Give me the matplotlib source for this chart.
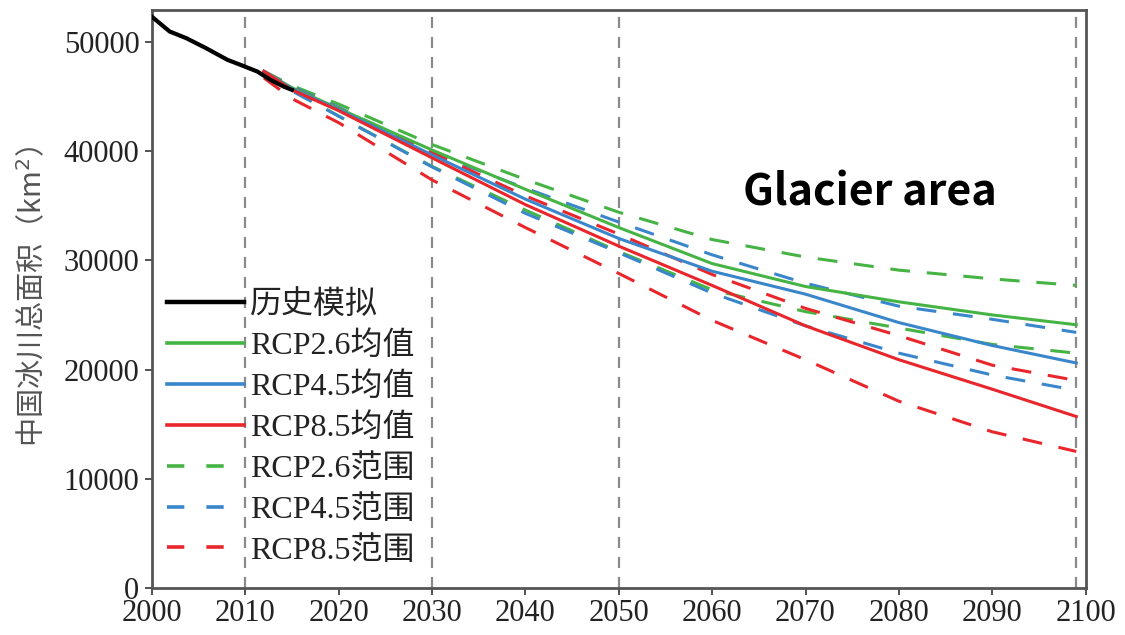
import matplotlib
matplotlib.use("Agg")
import matplotlib.pyplot as plt

# historical simulation
hist_years = [2000, 2001.9, 2003.7, 2005.8, 2008.1, 2009.5, 2011.3, 2012.7, 2014.1, 2015]
hist_area = [52300, 50950, 50330, 49420, 48350, 47890, 47280, 46520, 45910, 45600]

# projections
years = [2012, 2015, 2020, 2030, 2040, 2050, 2060, 2070, 2080, 2090, 2099]
rcp26_mean = [47300, 45800, 43900, 40100, 36500, 33000, 29700, 27600, 26200, 25000, 24100]
rcp45_mean = [47300, 45700, 43800, 39650, 35600, 32000, 29000, 26900, 24300, 22200, 20600]
rcp85_mean = [47300, 45600, 43700, 39380, 35100, 31300, 27700, 24000, 20900, 18200, 15700]
rcp26_hi = [47300, 46000, 44300, 40600, 37400, 34400, 31900, 30300, 29100, 28300, 27700]
rcp26_lo = [47300, 45600, 43200, 38600, 34600, 30800, 27300, 25300, 23800, 22300, 21500]
rcp45_hi = [47300, 45900, 44000, 39850, 36600, 33500, 30500, 27900, 25800, 24600, 23400]
rcp45_lo = [47300, 45500, 43200, 38550, 34300, 30700, 27000, 24000, 21500, 19500, 18100]
rcp85_hi = [47300, 45800, 43900, 39850, 35900, 32400, 28700, 25600, 23100, 20400, 19000]
rcp85_lo = [46700, 44800, 42600, 37360, 33000, 28800, 24500, 20900, 17100, 14300, 12500]

vlines = [2010, 2030, 2050, 2099]

green = "#46b444"
blue = "#3a86cb"
red = "#e8262b"

serif = ["Liberation Serif", "Noto Sans CJK SC"]
plt.rcParams["font.family"] = serif

fig = plt.figure(figsize=(11.25, 6.35), dpi=100)
ax = fig.add_axes([0.135, 0.074, 0.83, 0.91])

for x in vlines:
    ax.axvline(x, color="#8a8a8a", lw=1.6, ls=(0, (5, 4)), zorder=1)

dash = (0, (6.5, 5.5))
ax.plot(years, rcp26_hi, color=green, lw=2.2, ls=dash, zorder=2)
ax.plot(years, rcp26_lo, color=green, lw=2.2, ls=dash, zorder=2)
ax.plot(years, rcp45_hi, color=blue, lw=2.2, ls=dash, zorder=2)
ax.plot(years, rcp45_lo, color=blue, lw=2.2, ls=dash, zorder=2)
ax.plot(years, rcp85_hi, color=red, lw=2.2, ls=dash, zorder=2)
ax.plot(years, rcp85_lo, color=red, lw=2.2, ls=dash, zorder=2)

ax.plot(years, rcp26_mean, color=green, lw=2.2, zorder=3)
ax.plot(years, rcp45_mean, color=blue, lw=2.2, zorder=3)
ax.plot(years, rcp85_mean, color=red, lw=2.2, zorder=3)
ax.plot(hist_years, hist_area, color="black", lw=3.0, zorder=4)

# legend handles
leg_dash = (0, (4.8, 6.1))
handles = [
    plt.Line2D([], [], color="black", lw=3.2),
    plt.Line2D([], [], color=green, lw=2.6),
    plt.Line2D([], [], color=blue, lw=2.6),
    plt.Line2D([], [], color=red, lw=2.6),
    plt.Line2D([], [], color=green, lw=2.6, ls=leg_dash),
    plt.Line2D([], [], color=blue, lw=2.6, ls=leg_dash),
    plt.Line2D([], [], color=red, lw=2.6, ls=leg_dash),
]
labels = ["历史模拟", "RCP2.6均值", "RCP4.5均值", "RCP8.5均值",
          "RCP2.6范围", "RCP4.5范围", "RCP8.5范围"]
ax.legend(handles, labels, loc="lower left", bbox_to_anchor=(-0.0075, 0.0),
          frameon=False, prop={"family": serif, "size": 23},
          handlelength=2.4, handletextpad=0.2, labelspacing=0.35,
          borderaxespad=0.3, labelcolor="#222222")

ax.text(0.769, 0.685, "Glacier area", transform=ax.transAxes,
        fontsize=31, fontweight="bold", family=["Noto Sans CJK JP", "DejaVu Sans"],
        ha="center", va="center", color="black")

ax.set_xlim(2000, 2100)
ax.set_ylim(0, 52900)
ax.set_xticks(range(2000, 2101, 10))
ax.set_yticks(range(0, 50001, 10000))
ax.tick_params(labelsize=22, length=5, width=1.3, color="#444444",
               labelcolor="#222222", pad=3)
ax.tick_params(axis="y", pad=4)

for s in ax.spines.values():
    s.set_color("#555555")
    s.set_linewidth(2)

fig.text(0.029, 0.534, "中国冰川总面积（km$^2$）", rotation=90, ha="center", va="center",
         fontsize=21, color="#555555", family=["Noto Sans CJK SC", "DejaVu Sans"])

fig.savefig("out.png", dpi=100)
